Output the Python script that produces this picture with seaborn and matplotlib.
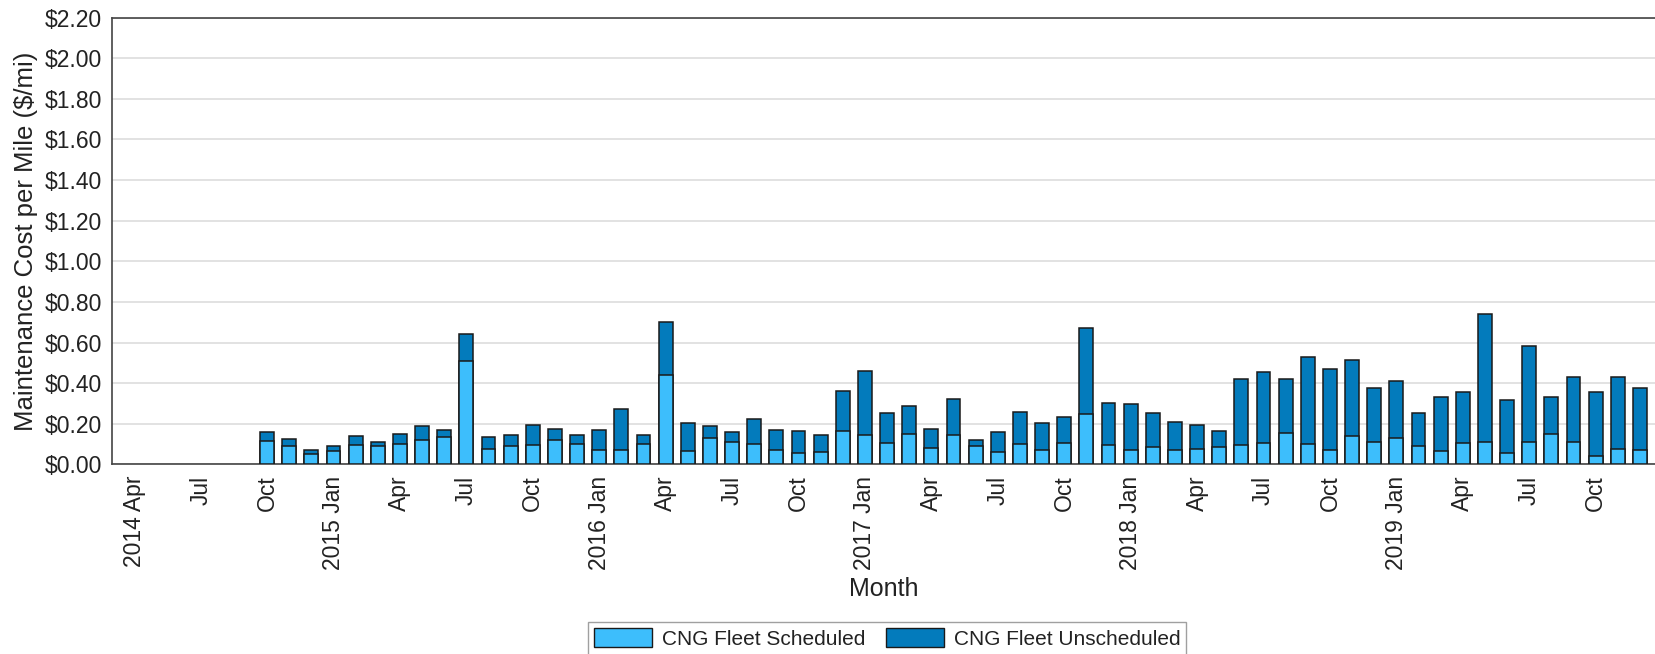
import matplotlib
matplotlib.use("Agg")
import matplotlib.pyplot as plt
import seaborn as sns
import pandas as pd
import numpy as np
from matplotlib.patches import Patch

# ---- data ----
axis_start = "2014-04"
axis_end = "2019-12"
data_start = "2014-10"

scheduled = [0.117, 0.091, 0.053,
             0.064, 0.096, 0.089, 0.099, 0.122, 0.136, 0.511, 0.076, 0.093, 0.098, 0.119, 0.099,
             0.069, 0.069, 0.099, 0.438, 0.068, 0.131, 0.109, 0.099, 0.069, 0.058, 0.063, 0.167,
             0.145, 0.107, 0.150, 0.081, 0.145, 0.091, 0.061, 0.101, 0.071, 0.106, 0.248, 0.098,
             0.073, 0.086, 0.069, 0.075, 0.084, 0.094, 0.106, 0.157, 0.102, 0.069, 0.139, 0.109,
             0.132, 0.092, 0.068, 0.105, 0.112, 0.057, 0.112, 0.149, 0.111, 0.043, 0.078, 0.072]
total = [0.159, 0.124, 0.069,
         0.091, 0.139, 0.111, 0.150, 0.188, 0.169, 0.643, 0.137, 0.144, 0.193, 0.175, 0.145,
         0.170, 0.273, 0.147, 0.702, 0.202, 0.188, 0.160, 0.225, 0.169, 0.165, 0.144, 0.362,
         0.458, 0.255, 0.288, 0.175, 0.321, 0.122, 0.160, 0.258, 0.205, 0.233, 0.671, 0.302,
         0.299, 0.253, 0.207, 0.193, 0.164, 0.421, 0.456, 0.420, 0.529, 0.469, 0.512, 0.374,
         0.413, 0.251, 0.334, 0.358, 0.740, 0.316, 0.582, 0.334, 0.431, 0.358, 0.431, 0.377]

series_names = ["CNG Fleet Scheduled", "CNG Fleet Unscheduled"]
colors = ["#3DBEFC", "#037BBC"]
month_abbr = ["Jan", "Feb", "Mar", "Apr", "May", "Jun", "Jul", "Aug", "Sep", "Oct", "Nov", "Dec"]

# ---- build frame ----
all_months = pd.period_range(axis_start, axis_end, freq="M")
data_months = pd.period_range(data_start, periods=len(total), freq="M")
order = [str(m) for m in all_months]
df = pd.DataFrame({"month": [str(m) for m in data_months],
                   "scheduled": scheduled, "total": total})

def tick_label(p, first):
    if first or p.month == 1:
        return f"{p.year} {month_abbr[p.month - 1]}"
    return month_abbr[p.month - 1]

# ---- style ----
sns.set_theme(style="white")
plt.rcParams["font.family"] = ["Liberation Sans", "DejaVu Sans"]
text_color = "#222222"

fig = plt.figure(figsize=(16.55, 6.54), dpi=100)
ax = fig.add_axes([0.0677, 0.2898, 0.9323, 0.6834])

bar_w = 0.63
sns.barplot(data=df, x="month", y="total", order=order, color=colors[1],
            saturation=1, width=bar_w, edgecolor="#1a1a1a", linewidth=1.1, ax=ax, zorder=3)
sns.barplot(data=df, x="month", y="scheduled", order=order, color=colors[0],
            saturation=1, width=bar_w, edgecolor="#1a1a1a", linewidth=1.1, ax=ax, zorder=4)

ax.set_ylim(0, 2.2)
ax.set_xlim(-1.0, len(order) - 1 + 0.68)
yt = np.arange(0, 2.2001, 0.2)
ax.set_yticks(yt)
ax.set_yticklabels([f"${v:.2f}" for v in yt], fontsize=16.5, color=text_color)

tick_pos = [i for i, m in enumerate(all_months) if (m.month - 4) % 3 == 0]
ax.set_xticks(tick_pos)
ax.set_xticklabels([tick_label(all_months[i], i == 0) for i in tick_pos],
                   rotation=90, fontsize=16.5, color=text_color)
ax.tick_params(axis="y", length=0, pad=7)
ax.tick_params(axis="x", length=0, pad=8)

ax.yaxis.grid(True, color="#dddddd", linewidth=1.2, zorder=0)
ax.xaxis.grid(False)
ax.set_axisbelow(True)
for s in ["left", "bottom", "top"]:
    ax.spines[s].set_visible(True)
    ax.spines[s].set_color("#444444")
    ax.spines[s].set_linewidth(1.2)
ax.spines["right"].set_visible(False)

ax.set_ylabel("Maintenance Cost per Mile ($/mi)", fontsize=18.5, color=text_color, labelpad=5)
ax.set_xlabel("Month", fontsize=18, color=text_color, labelpad=5)

handles = [Patch(facecolor=c, edgecolor="#1a1a1a", linewidth=1.0) for c in colors]
leg = fig.legend(handles, series_names, loc="upper center", bbox_to_anchor=(0.536, 0.049),
                 ncol=2, fontsize=15, frameon=True, fancybox=False, edgecolor="#888888",
                 handlelength=2.8, handleheight=1.0, columnspacing=1.0, borderpad=0.3,
                 handletextpad=0.45, borderaxespad=0.0)
leg.get_frame().set_linewidth(1.0)
for t in leg.get_texts():
    t.set_color(text_color)

fig.savefig("out.png", dpi=100)
